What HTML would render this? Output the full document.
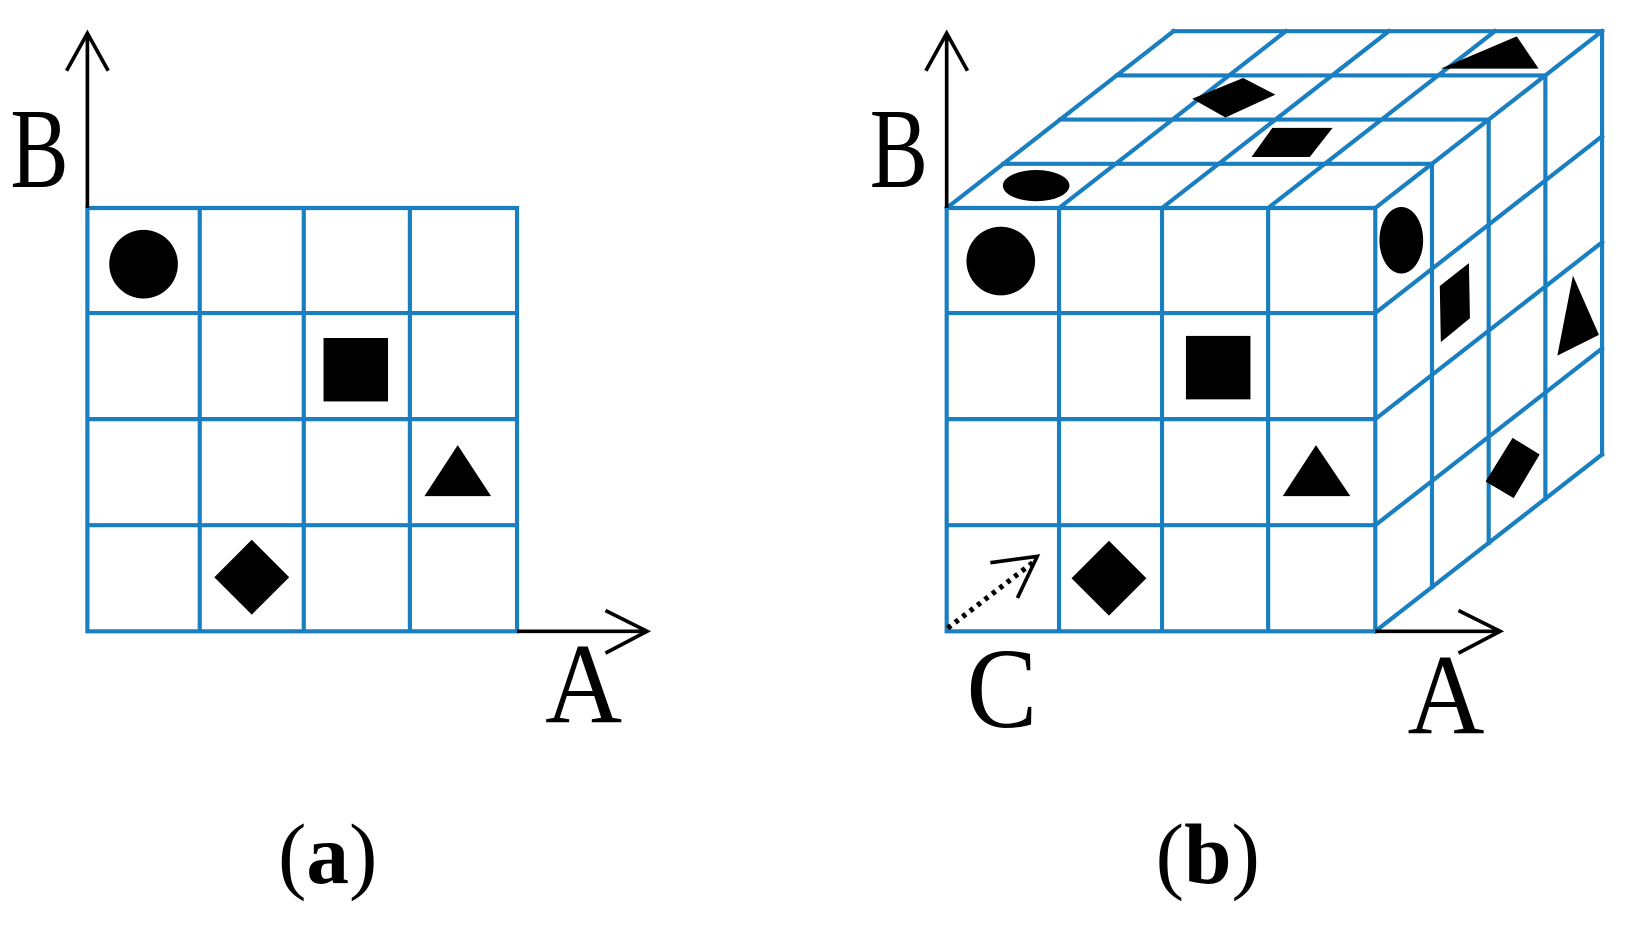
<!DOCTYPE html>
<html><head><meta charset="utf-8"><style>
html,body{margin:0;padding:0;background:#fff;}
svg{display:block;}
text{font-family:"Liberation Serif",serif;fill:#000;}
</style></head><body>
<svg width="1626" height="936" viewBox="0 0 1563 900" preserveAspectRatio="none" xmlns="http://www.w3.org/2000/svg">
<g stroke="#1a7fc1" stroke-width="4" fill="none" stroke-linecap="square">
  <path d="M84 200H497M84 301H497M84 403H497M84 505H497M84 607H497M84 200V607M192 200V607M292 200V607M394 200V607M497 200V607"/>
  <path d="M910 200H1322M910 301H1322M910 403H1322M910 505H1322M910 607H1322M910 200V607M1018 200V607M1117 200V607M1219 200V607M1322 200V607"/>
  <path d="M964.5 157.5H1376.5M1019 115H1431M1073.5 72.5H1485.5M1128 30H1540"/>
  <path d="M910 200L1128 30M1018 200L1236 30M1117 200L1335 30M1219 200L1437 30M1322 200L1540 30"/>
  <path d="M1376.5 157.5V564.5M1431 115V522M1485.5 72.5V479.5M1540 30V437"/>
  <path d="M1322 301L1540 131M1322 403L1540 233M1322 505L1540 335M1322 607L1540 437"/>
</g>
<g stroke="#000" stroke-width="3.5" fill="none">
  <path d="M84 200V32M64 68L84 32L104 68"/>
  <path d="M497 607H622M582 587L622 607L582 628"/>
  <path d="M910 200V32M890 68L910 32L930 68"/>
  <path d="M1322 607H1442M1402 587L1442 607L1402 628"/>
  <path d="M911 604L994 540" stroke-dasharray="4 5" stroke-width="5"/>
  <path d="M952 541L997 535L978 575"/>
</g>
<g fill="#000">
  <circle cx="138" cy="254" r="33"/>
  <rect x="311" y="325" width="62" height="61"/>
  <polygon points="408,477 440,428 472,477"/>
  <polygon points="242,519 278,555 242,591 206,555"/>
  <circle cx="962" cy="251" r="33"/>
  <rect x="1140" y="323" width="62" height="61"/>
  <polygon points="1233,477 1265,428 1298,477"/>
  <polygon points="1066,520 1102,556 1066,592 1030,556"/>
  <ellipse cx="996" cy="178.5" rx="32" ry="15"/>
  <polygon points="1146,95 1195,75 1226,91 1178,113"/>
  <polygon points="1223,123 1281,123 1259,151 1203,151"/>
  <polygon points="1385,66 1458,35 1479,66"/>
  <ellipse cx="1347" cy="231" rx="21" ry="32"/>
  <polygon points="1384,275 1412,253 1413,306 1385,329"/>
  <polygon points="1428,463 1454,421 1480,437 1455,479"/>
  <polygon points="1497,342 1512,265 1537,322"/>
</g>
<text x="10" y="180" font-size="110" textLength="56" lengthAdjust="spacingAndGlyphs">B</text>
<text x="836" y="180" font-size="110" textLength="56" lengthAdjust="spacingAndGlyphs">B</text>
<text x="524" y="694" font-size="110" textLength="74" lengthAdjust="spacingAndGlyphs">A</text>
<text x="1353" y="705" font-size="110" textLength="74" lengthAdjust="spacingAndGlyphs">A</text>
<text x="929" y="699" font-size="110" textLength="68" lengthAdjust="spacingAndGlyphs">C</text>
<text x="315" y="849" font-size="82" text-anchor="middle">(<tspan font-weight="bold">a</tspan>)</text>
<text x="1161" y="849" font-size="82" text-anchor="middle">(<tspan font-weight="bold">b</tspan>)</text>
</svg>
</body></html>
